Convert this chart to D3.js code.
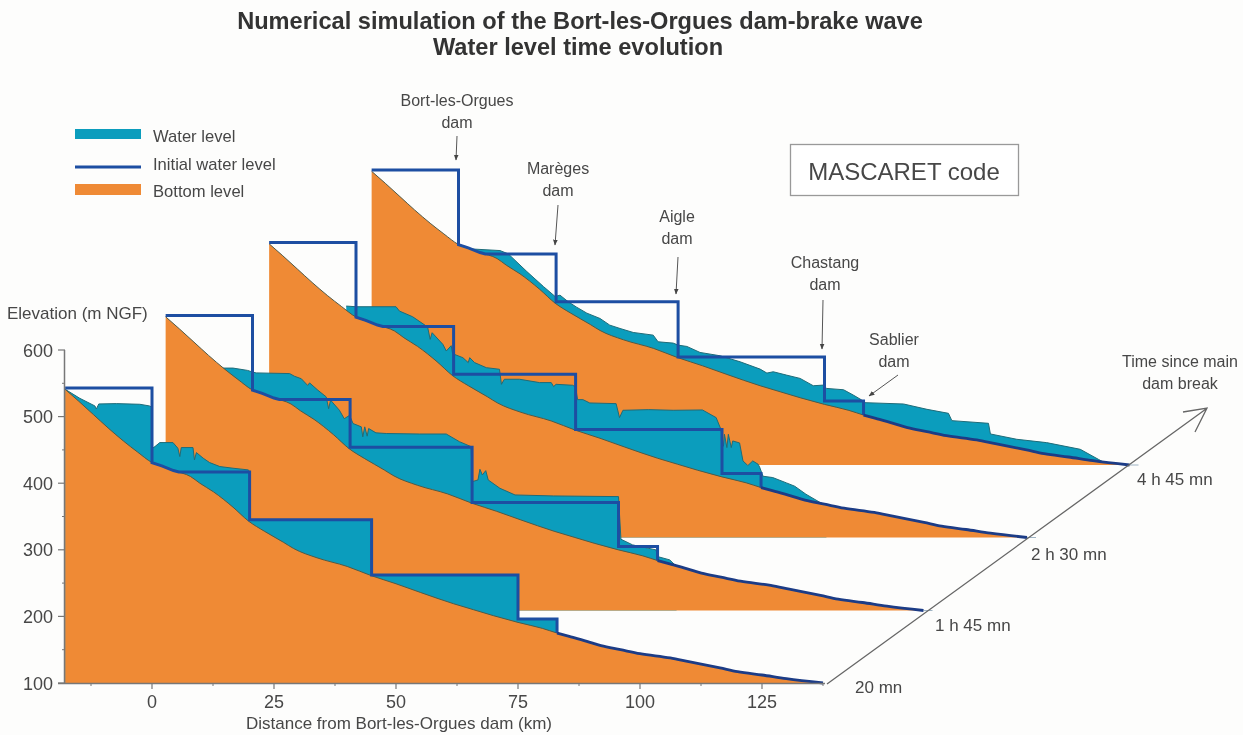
<!DOCTYPE html>
<html><head><meta charset="utf-8">
<script src="https://cdn.jsdelivr.net/npm/d3@7"></script>
<style>
html,body{margin:0;padding:0;background:#fdfdfc;}
svg{display:block;filter:blur(0.45px);}
text{font-family:"Liberation Sans",Arial,sans-serif;fill:#474747;}
</style></head><body><div id="chart"></div>
<script>
// ---------- data: [km, elevation m NGF] ----------
const bedKm = [-17.8,-15,-12,-9,-5.8,-3,0,3,4.4,7.9,9.8,12.6,16.6,19.8,23,27,29,33.8,40,45,50,55,61.8,65.9,70,75,80,83,85.5,89.1,92,96,100,106.2,110,116.4,120,125,130,137.5];
const bedElev = [541,523,503,483,463,447,431,423,419,410,400,387,364,343,328,311,302,288,275,261,249,236,219,210,201,191,182,175,170,162.6,156,150,144,137.6,132,122.6,117,112,106.6,100];

const initialKm = [-17.8,0,0,2,4.4,5.5,20,20,45,45,75,75,83,83];
const initialElev = [543,543,431,426,419,417,417,345,345,262,262,196,196,175];

const water20mn = [[-17.8,541],[-14.8,527.5],[-11.7,516],[-11.4,511.5],[-10.9,519],[-7.3,519.5],[-2.5,518.5],[-0.5,516],[0,514],[0.05,452.5],[0.6,455],[1.6,461],[4.3,461],[5.3,452.5],[5.7,440],[6,453.5],[8.4,453.5],[8.7,435],[9.1,446],[10.5,437.5],[11.8,431],[13.9,425],[16.6,422.5],[19.7,420],[20,418],[20.05,345],[45,345],[45.05,262],[75,262],[75.05,196],[83,196],[83.05,175]];
const water1h45 = [[-6.2,464],[-4,464],[-1,460.5],[0,458],[0.75,456.75],[7.6,455.75],[8.6,451.75],[10,448],[11.3,438],[11.7,441.75],[13.4,430.75],[15.1,420.75],[15.6,403],[16,415.75],[17.8,400.75],[18.8,388],[19.9,393],[20.6,380.75],[22.3,375.75],[22.6,360.75],[23,375.75],[23.5,361.75],[23.8,373.25],[25.3,366.75],[27.4,365.75],[34.2,365],[39.7,365],[42.4,353.5],[44.8,346],[45.05,293.5],[46.2,296],[46.6,312],[47.1,303.5],[47.8,310],[48.3,296],[50.7,283.5],[53.8,273.5],[61.7,272],[75,271],[75.5,207],[77.9,198.5],[82.7,191],[83,181],[85.5,176],[86.9,166]];
const water2h30 = [[-2,447.5],[0,446.5],[8.2,446.5],[8.9,440],[11.6,431.5],[14.4,417.5],[14.7,415],[15.2,397.5],[15.6,407.5],[17.8,390],[18.5,380],[19.5,388],[19.8,376],[21.9,370],[23,362.6],[23.3,370],[24.3,362.6],[26.7,355],[29.4,352.6],[29.8,330],[30.4,337.6],[33.5,337.6],[37.6,332.6],[40,332.6],[40.5,326.6],[41,330],[44.4,328.6],[45,326],[45.4,307],[46.5,307],[47.9,302],[53.3,301],[54,280],[54.7,291],[60,292],[65,291],[71,291.5],[73.8,280],[74.8,262],[75.3,237],[75.5,255],[76,235],[76.3,255],[76.9,235],[77.2,245],[78.6,242],[79.3,215],[80.3,208],[81.3,215],[82.4,210],[82.7,206],[83.4,192],[85.4,190],[88.2,182],[89.9,177],[92.2,165],[95,153],[96.4,148]];
const water4h45 = [[1,428],[2.4,424.5],[8.5,422],[10.2,417],[14,390.5],[17.4,368],[19.8,353],[20.8,355],[22.5,345],[24.2,337],[26.3,328],[29,320],[31,310],[33.1,305],[35.8,299],[39.9,295],[40.9,285],[44,283],[45,280],[46.8,278],[49.5,269],[53.6,264],[57.7,255],[61.8,244],[63.2,238],[64.5,240],[67.2,235],[70,230],[72.7,219],[74.8,220],[75.4,215],[78.9,213],[80.9,205],[82.6,197.7],[83.3,193.6],[91.2,191.6],[96,183.6],[100.4,177.6],[101.1,166.6],[108.6,162.6],[109,146.6],[114.4,138.6],[120.5,133.6],[127.4,123.6],[131.1,108.6],[132,105]];

const panelLabels = ["20 mn","1 h 45 mn","2 h 30 mn","4 h 45 mn"];
const waterSeries = [water20mn,water1h45,water2h30,water4h45];
const xTicks = [0,25,50,75,100,125];
const xMinor = [-12.5,12.5,37.5,62.5,87.5,112.5,137.5];
const yTicks = [100,200,300,400,500,600];
const yMinor = [150,250,350,450,550];
const legendItems = ["Water level","Initial water level","Bottom level"];
const damNotes = [["Bort-les-Orgues","dam"],["Marèges","dam"],["Aigle","dam"],["Chastang","dam"],["Sablier","dam"]];

// ---------- layout ----------
const W=1243,H=735;
const ORANGE="#ef8a35",TEAL="#0b9dbd",BLUE="#1d4ea2",NAVY="#1c3c86",GREY="#777";
const panelDx=[0,100.5,204,306.5], panelDy=[0,72.5,145.5,218];
const x=d3.scaleLinear().domain([0,125]).range([152,762]);
const y=d3.scaleLinear().domain([100,600]).range([683,350]);

const svg=d3.select("#chart").append("svg").attr("width",W).attr("height",H);
const bed=bedKm.map((k,i)=>[k,bedElev[i]]);
const stepLine=initialKm.map((k,i)=>[k,initialElev[i]]);
const tail=[[83,175]].concat(bed.filter(d=>d[0]>83));
const line=d3.line().x(d=>x(d[0])).y(d=>y(d[1]));
const smooth=d3.line().curve(d3.curveMonotoneX).x(d=>x(d[0])).y(d=>y(d[1]));
const bedArea=d3.area().curve(d3.curveMonotoneX).x(d=>x(d[0])).y0(y(100)).y1(d=>y(d[1]));

// panels back to front
[3,2,1,0].forEach(i=>{
  const g=svg.append("g").attr("transform",`translate(${panelDx[i]},${-panelDy[i]})`);
  const w=waterSeries[i];
  const first=w[0][0], last=w[w.length-1][0];
  const under=[[last,y.invert(y(100))]].concat([[first,100]]);
  g.append("path").attr("d",line(w.concat(under))+"Z").attr("fill",TEAL);
  g.append("path").attr("d",line(w)).attr("fill","none").attr("stroke","#1f6b78").attr("stroke-width",1);
  g.append("path").attr("d",bedArea(bed)).attr("fill",ORANGE);
  g.append("path").attr("d",smooth(bed)).attr("fill","none").attr("stroke","#4f5a48").attr("stroke-width",1);
  g.append("path").attr("d",line(stepLine)).attr("fill","none").attr("stroke",BLUE).attr("stroke-width",3);
  g.append("path").attr("d",smooth(tail)).attr("fill","none").attr("stroke",NAVY).attr("stroke-width",2.8);
  if(i>0) g.append("line").attr("x1",x(137.5)).attr("x2",x(137.5)+9).attr("y1",y(100)).attr("y2",y(100)).attr("stroke","#9fb4c4").attr("stroke-width",1);
});

// axes
const ax=svg.append("g").attr("stroke",GREY).attr("fill","none");
ax.append("line").attr("x1",64.5).attr("x2",64.5).attr("y1",y(600)).attr("y2",y(100)).attr("stroke-width",1.5);
ax.append("line").attr("x1",58).attr("x2",825).attr("y1",y(100)+.5).attr("y2",y(100)+.5).attr("stroke-width",1.5);
yTicks.forEach(t=>ax.append("line").attr("x1",58).attr("x2",65).attr("y1",y(t)).attr("y2",y(t)).attr("stroke-width",1.2));
yMinor.forEach(t=>ax.append("line").attr("x1",62).attr("x2",65).attr("y1",y(t)).attr("y2",y(t)));
xTicks.forEach(t=>ax.append("line").attr("x1",x(t)).attr("x2",x(t)).attr("y1",683).attr("y2",689).attr("stroke-width",1.2));
xMinor.forEach(t=>ax.append("line").attr("x1",x(t)).attr("x2",x(t)).attr("y1",683).attr("y2",686));

const txt=(s,px,py,size,anchor,weight)=>svg.append("text").attr("x",px).attr("y",py).attr("font-size",size).attr("text-anchor",anchor||"middle").attr("font-weight",weight||"normal").text(s);

yTicks.forEach(t=>txt(t,53,y(t)+6.5,18,"end"));
xTicks.forEach(t=>txt(t,x(t),708,18));
txt("Distance from Bort-les-Orgues dam (km)",399,729,17);
txt("Elevation (m NGF)",7,319,17,"start");

// title
txt("Numerical simulation of the Bort-les-Orgues dam-brake wave",580,29,23.6,"middle","bold").style("fill","#333");
txt("Water level time evolution",578,55,23.6,"middle","bold").style("fill","#333");

// legend
svg.append("rect").attr("x",75).attr("y",129).attr("width",66).attr("height",10).attr("fill",TEAL);
svg.append("line").attr("x1",75).attr("x2",141).attr("y1",167).attr("y2",167).attr("stroke",BLUE).attr("stroke-width",3);
svg.append("rect").attr("x",75).attr("y",184).attr("width",66).attr("height",11).attr("fill",ORANGE);
[142,170,197].forEach((py,i)=>txt(legendItems[i],153,py,16.6,"start"));

// code box
svg.append("rect").attr("x",790.5).attr("y",144.5).attr("width",228).attr("height",51).attr("fill","#fff").attr("stroke","#999").attr("stroke-width",1.3);
txt("MASCARET code",904,180,24);

// dam labels & arrows
const notePos=[[457,106,[457,136],[456,160]],[558,174,[558,205],[555,245]],[677,222,[678,257],[676,294]],[825,268,[823,300],[822,349]],[894,345,[898,375],[869,396]]];
svg.append("defs").append("marker").attr("id","ah").attr("viewBox","0 0 10 10").attr("refX",9).attr("refY",5).attr("markerWidth",6).attr("markerHeight",6).attr("orient","auto")
  .append("path").attr("d","M0,1L10,5L0,9Z").attr("fill","#444");
notePos.forEach((p,i)=>{
  txt(damNotes[i][0],p[0],p[1],16,"middle");
  txt(damNotes[i][1],p[0],p[1]+22,16,"middle");
  svg.append("line").attr("x1",p[2][0]).attr("y1",p[2][1]).attr("x2",p[3][0]).attr("y2",p[3][1]).attr("stroke","#555").attr("stroke-width",1).attr("marker-end","url(#ah)");
});

// time axis
svg.append("path").attr("d","M827,684L1206,409M1183,412L1207,408L1195,432").attr("fill","none").attr("stroke","#666").attr("stroke-width",1.3);
txt("Time since main",1180,367,16,"middle");
txt("dam break",1180,389,16,"middle");
[[855,693],[935,631],[1031,560],[1137,485]].forEach((p,i)=>txt(panelLabels[i],p[0],p[1],17,"start"));
</script></body></html>
